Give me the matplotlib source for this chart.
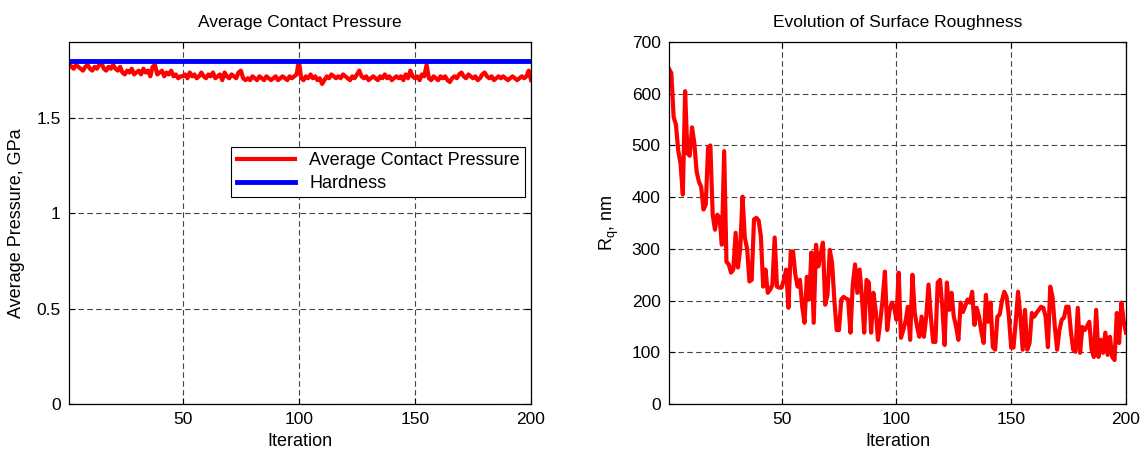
import numpy as np
import matplotlib
matplotlib.use("Agg")
import matplotlib.pyplot as plt

plt.rcParams['font.family'] = ['Liberation Sans', 'DejaVu Sans']
plt.rcParams['mathtext.fontset'] = 'custom'
plt.rcParams['mathtext.rm'] = 'Liberation Sans'
plt.rcParams['mathtext.it'] = 'Liberation Sans'

# iteration numbers
iteration = np.arange(1, 201)

# average contact pressure, GPa
pressure = [
    1.79, 1.77, 1.76, 1.78, 1.77, 1.76, 1.75, 1.77, 1.78, 1.76,
    1.75, 1.77, 1.76, 1.78, 1.79, 1.76, 1.75, 1.77, 1.76, 1.78,
    1.76, 1.75, 1.77, 1.74, 1.73, 1.75, 1.74, 1.76, 1.73, 1.74,
    1.75, 1.73, 1.76, 1.74, 1.75, 1.72, 1.77, 1.78, 1.73, 1.74,
    1.75, 1.72, 1.74, 1.73, 1.75, 1.72, 1.73, 1.71, 1.72, 1.72,
    1.73, 1.71, 1.74, 1.72, 1.73, 1.71, 1.72, 1.74, 1.72, 1.71,
    1.73, 1.72, 1.74, 1.71, 1.72, 1.73, 1.70, 1.74, 1.72, 1.71,
    1.73, 1.72, 1.71, 1.74, 1.75, 1.71, 1.70, 1.71, 1.70, 1.72,
    1.71, 1.70, 1.72, 1.71, 1.70, 1.72, 1.71, 1.70, 1.71, 1.72,
    1.70, 1.71, 1.72, 1.71, 1.70, 1.72, 1.71, 1.72, 1.73, 1.80,
    1.71, 1.70, 1.72, 1.71, 1.73, 1.71, 1.72, 1.70, 1.71, 1.68,
    1.70, 1.72, 1.71, 1.73, 1.72, 1.71, 1.72, 1.71, 1.73, 1.72,
    1.71, 1.70, 1.72, 1.71, 1.73, 1.75, 1.72, 1.71, 1.72, 1.70,
    1.71, 1.72, 1.71, 1.70, 1.72, 1.71, 1.73, 1.71, 1.72, 1.70,
    1.71, 1.72, 1.71, 1.72, 1.70, 1.73, 1.71, 1.75, 1.72, 1.71,
    1.72, 1.70, 1.73, 1.72, 1.78, 1.71, 1.70, 1.72, 1.71, 1.70,
    1.72, 1.71, 1.72, 1.70, 1.69, 1.71, 1.72, 1.71, 1.73, 1.74,
    1.72, 1.71, 1.73, 1.72, 1.71, 1.72, 1.70, 1.71, 1.73, 1.74,
    1.72, 1.71, 1.72, 1.70, 1.71, 1.72, 1.71, 1.72, 1.71, 1.70,
    1.71, 1.72, 1.71, 1.70, 1.71, 1.72, 1.71, 1.72, 1.75, 1.70,
]
hardness = [1.8] * 200

# surface roughness Rq, nm
roughness = [
    648, 640, 555, 540, 490, 465, 405, 605, 485, 480,
    535, 505, 450, 430, 420, 376, 386, 496, 500, 366,
    337, 366, 360, 308, 489, 275, 270, 254, 260, 331,
    264, 300, 401, 322, 300, 237, 240, 357, 360, 355,
    324, 227, 260, 215, 221, 230, 322, 227, 225, 225,
    240, 260, 186, 295, 295, 250, 227, 240, 188, 157,
    246, 202, 293, 157, 308, 266, 290, 312, 192, 211,
    298, 273, 200, 143, 143, 202, 207, 204, 202, 138,
    230, 270, 215, 260, 207, 138, 240, 235, 138, 215,
    180, 124, 160, 202, 256, 143, 180, 196, 188, 163,
    254, 128, 143, 160, 188, 124, 250, 176, 150, 130,
    169, 130, 169, 231, 169, 120, 120, 235, 240, 188,
    114, 235, 182, 215, 169, 150, 124, 196, 178, 190,
    202, 196, 217, 153, 186, 169, 140, 118, 211, 159,
    196, 110, 105, 169, 173, 200, 217, 207, 169, 109,
    109, 160, 217, 169, 105, 182, 105, 118, 176, 169,
    176, 182, 188, 186, 169, 110, 227, 207, 150, 105,
    143, 163, 167, 188, 188, 140, 105, 101, 186, 99,
    149, 143, 150, 159, 105, 91, 182, 91, 124, 99,
    138, 95, 130, 91, 85, 176, 118, 196, 160, 138,
]

fig = plt.figure(figsize=(11.47, 4.57), dpi=100)
ax1 = fig.add_axes([0.0602, 0.116, 0.4028, 0.792])
ax2 = fig.add_axes([0.5833, 0.116, 0.3984, 0.792])

fs = 12.5


def style(ax):
    ax.grid(True, linestyle=(0, (5, 3)), color='#444444', linewidth=0.8)
    ax.set_axisbelow(True)
    ax.tick_params(direction='in', top=True, right=True, labelsize=fs,
                   length=4, width=0.8, pad=6)
    for s in ax.spines.values():
        s.set_linewidth(0.9)
        s.set_color('black')
    ax.set_xlim(1, 200)
    ax.set_xticks([50, 100, 150, 200])
    ax.set_xlabel('Iteration', fontsize=13, labelpad=4)


ax1.plot(iteration, pressure, color='red', linewidth=3, label='Average Contact Pressure')
ax1.plot(iteration, hardness, color='blue', linewidth=3.5, label='Hardness')
style(ax1)
ax1.set_ylim(0, 1.9)
ax1.set_yticks([0, 0.5, 1, 1.5])
ax1.set_yticklabels(['0', '0.5', '1', '1.5'])
ax1.set_ylabel('Average Pressure, GPa', fontsize=13, labelpad=8)
ax1.set_title('Average Contact Pressure', fontsize=12.5, pad=11)
leg = ax1.legend(loc='upper right', bbox_to_anchor=(0.987, 0.71), fontsize=13,
                 fancybox=False, framealpha=1, edgecolor='black',
                 handlelength=3.2, borderaxespad=0, borderpad=0.3,
                 labelspacing=0.3)
leg.get_frame().set_linewidth(0.8)

ax2.plot(iteration, roughness, color='red', linewidth=3)
style(ax2)
ax2.set_ylim(0, 700)
ax2.set_yticks(np.arange(0, 701, 100))
ax2.set_ylabel(r'R$_{\mathrm{q}}$, nm', fontsize=13, labelpad=8)
ax2.set_title('Evolution of Surface Roughness', fontsize=12.5, pad=11)

fig.savefig('out.png', dpi=100)
